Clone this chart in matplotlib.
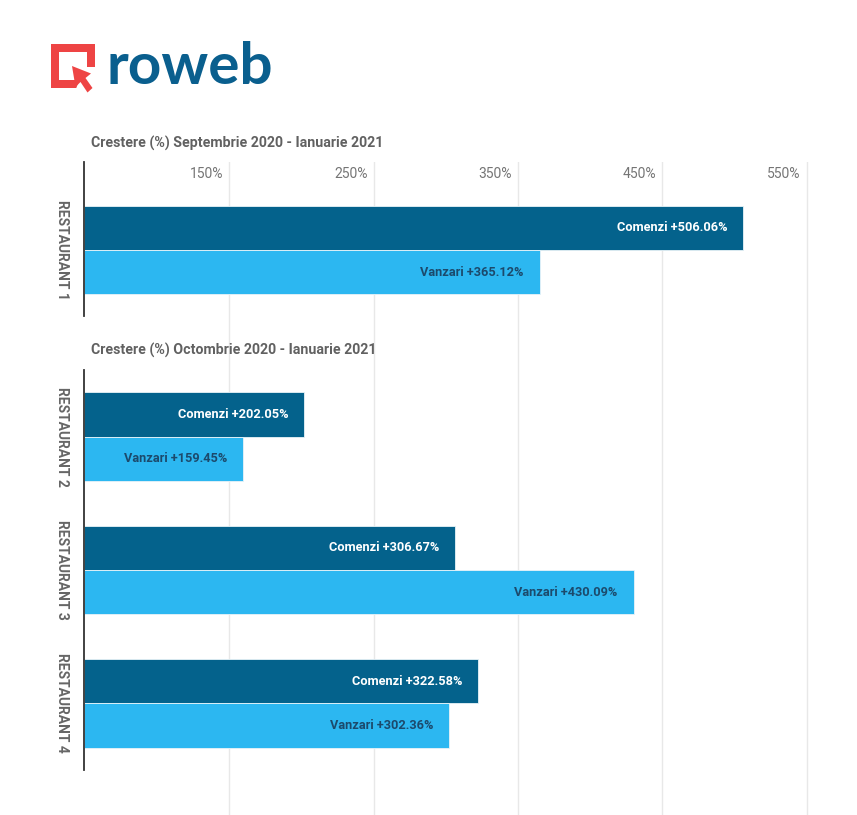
import matplotlib
matplotlib.use("Agg")
import matplotlib.pyplot as plt
from matplotlib.patches import Rectangle, Polygon
from matplotlib.transforms import blended_transform_factory, offset_copy

plt.rcParams['font.family'] = ['Roboto', 'DejaVu Sans']

# ---- data ----
top_title = "Crestere (%) Septembrie 2020 - Ianuarie 2021"
bottom_title = "Crestere (%) Octombrie 2020 - Ianuarie 2021"
top_groups = ["RESTAURANT 1"]
top_comenzi = [506.06]
top_vanzari = [365.12]
bottom_groups = ["RESTAURANT 2", "RESTAURANT 3", "RESTAURANT 4"]
bottom_comenzi = [202.05, 306.67, 322.58]
bottom_vanzari = [159.45, 430.09, 302.36]
tick_values = [150, 250, 350, 450, 550]
tick_labels = ["150%", "250%", "350%", "450%", "550%"]
series_names = ["Comenzi", "Vanzari"]

W, H = 857, 815
DARK = "#04628c"
LIGHT = "#2cb7f1"
XMIN, XMAX = 49.5, 573.0

fig = plt.figure(figsize=(W / 100, H / 100), dpi=100)
fig.patch.set_facecolor("white")


def rect(x0, y0, x1, y1):
    # pixel box (y down) -> figure fraction [left, bottom, width, height]
    return [x0 / W, 1 - y1 / H, (x1 - x0) / W, (y1 - y0) / H]


# ---- logo ----
lax = fig.add_axes([0, 0, 1, 1])
lax.set_xlim(0, W)
lax.set_ylim(H, 0)
lax.axis("off")
RED = "#ee4444"
lax.add_patch(Rectangle((51, 44), 44, 44, color=RED, lw=0))
lax.add_patch(Rectangle((59, 52), 28, 28, color="white", lw=0))
lax.add_patch(Polygon([(73, 97), (100, 97), (100, 67), (84, 67)], closed=True, color="white", lw=0))
lax.add_patch(Polygon([(72, 66), (75.5, 87), (80.5, 82), (87.5, 92.5), (92.5, 88), (85.5, 78), (91, 73.5)],
                      closed=True, facecolor=RED, edgecolor="white", lw=0))
lax.text(107, 67, "roweb", fontsize=42, fontweight="bold", color="#0a5f8e",
         family=["Lato", "DejaVu Sans"], va="center", ha="left")

# ---- background grid axes ----
bg = fig.add_axes(rect(84, 162, 840, 815))
bg.set_xlim(XMIN, XMAX)
bg.set_ylim(0, 1)
for s in bg.spines.values():
    s.set_visible(False)
bg.set_yticks([])
bg.set_xticks(tick_values)
bg.tick_params(axis="x", length=0, labelbottom=False)
bg.grid(axis="x", color="#e8e8e8", lw=1.0)
bg.patch.set_alpha(0)
tr = offset_copy(blended_transform_factory(bg.transData, fig.transFigure), fig=fig, x=-6, y=0, units="dots")
for v, lab in zip(tick_values, tick_labels):
    bg.text(v, 1 - 174 / H, lab, transform=tr, ha="right", va="center", fontsize=10, color="#757575")


def draw_panel(box, groups, comenzi, vanzari, ylim):
    ax = fig.add_axes(rect(*box))
    ax.patch.set_alpha(0)
    ax.set_xlim(XMIN, XMAX)
    ax.set_ylim(*ylim)
    for k in ["top", "right", "bottom"]:
        ax.spines[k].set_visible(False)
    ax.spines["left"].set_color("#333333")
    ax.spines["left"].set_linewidth(1.3)
    ax.set_xticks([])
    ax.set_yticks([])
    h = 1 / 3
    for i, (g, c, v) in enumerate(zip(groups, comenzi, vanzari)):
        ax.barh(i - h / 2, c - XMIN, left=XMIN, height=h, color=DARK, edgecolor="#e9f3f8", lw=0.6)
        ax.barh(i + h / 2, v - XMIN, left=XMIN, height=h, color=LIGHT, edgecolor="#e9f3f8", lw=0.6)
        ax.annotate(f"{series_names[0]} +{c:.2f}%", (c, i - h / 2), xytext=(-16, 0),
                    textcoords="offset pixels", ha="right", va="center",
                    fontsize=9.2, fontweight="bold", color="white")
        ax.annotate(f"{series_names[1]} +{v:.2f}%", (v, i + h / 2), xytext=(-16, 0),
                    textcoords="offset pixels", ha="right", va="center",
                    fontsize=9.2, fontweight="bold", color="#1c4a6c")
        ax.annotate(g, (0, i), xycoords=("axes fraction", "data"), xytext=(-22, 0),
                    textcoords="offset pixels", ha="center", va="center", rotation=-90,
                    fontsize=10, fontweight="bold", color="#666666")
    return ax


draw_panel((84, 162, 840, 316), top_groups, top_comenzi, top_vanzari, (0.495, -0.66))
draw_panel((84, 370, 840, 770), bottom_groups, bottom_comenzi, bottom_vanzari, (2.5, -0.5))

fig.text(91 / W, 1 - 143 / H, top_title, fontsize=10.2, fontweight="bold", color="#616161", va="center", ha="left")
fig.text(91 / W, 1 - 350 / H, bottom_title, fontsize=10.2, fontweight="bold", color="#616161", va="center", ha="left")

fig.savefig("out.png", dpi=100, facecolor="white")
